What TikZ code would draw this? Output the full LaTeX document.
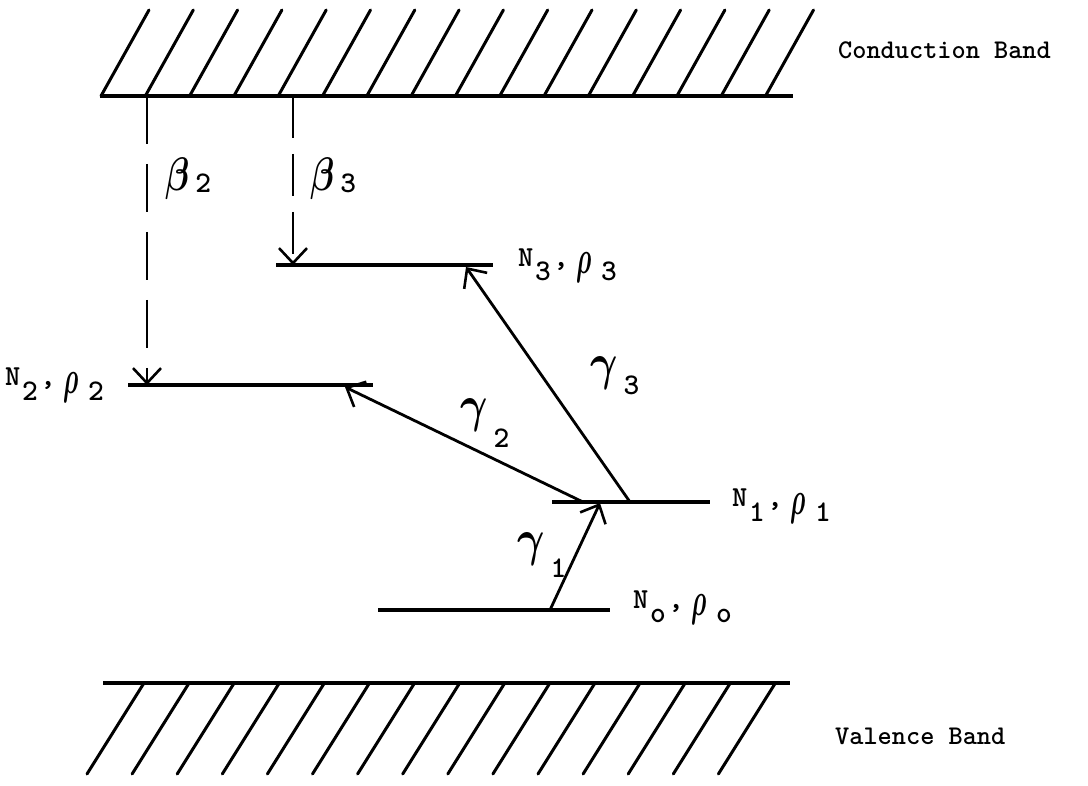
\documentclass[tikz,border=0pt]{standalone}
\usepackage{fontspec}
\usepackage{graphicx}
\usepackage{amsmath}
\usetikzlibrary{arrows.meta}
\newcommand{\tw}{\ttfamily\bfseries}
\newcommand{\NN}{\scalebox{2.9}{\tw N}}
\newcommand{\DD}[1]{\scalebox{3}{\tw #1}}
\newcommand{\rhog}{\raisebox{-7pt}{\scalebox{2.5}[4.7]{$\boldsymbol{\rho}$}}}
\newcommand{\lvlab}[2]{\makebox[17pt][l]{\NN}\makebox[18pt][l]{\raisebox{-14pt}{\DD{#1}}}\makebox[23pt][l]{\DD{,}}\makebox[25pt][l]{\rhog}\raisebox{-14pt}{\DD{#2}}}
\newcommand{\betag}{\scalebox{3.5}[4.7]{$\boldsymbol{\beta}$}}
\newcommand{\gammag}{\scalebox{4.2}[5.1]{$\boldsymbol{\gamma}$}}
\newcommand{\glab}[3]{#1\hspace{6pt}\raisebox{#3}{\scalebox{3}{\tw #2}}}
\begin{document}
\begin{tikzpicture}[x=1pt,y=-1pt,
  band/.style={line width=3.8pt},
  hatch/.style={line width=3pt, line cap=round},
  level/.style={line width=3.6pt},
  tip/.style={-{Straight Barb[length=15pt,width=28pt,line width=2.6pt]}},
  trans/.style={line width=2.8pt, tip},
  dtrans/.style={line width=2.6pt, tip},
  bandlab/.style={font=\fontsize{27}{32}\selectfont\tw, inner sep=0pt, anchor=base west},
  lvllab/.style={inner sep=0pt, anchor=base west},
  greek/.style={inner sep=0pt, anchor=base west}]
\useasboundingbox (0,0) rectangle (1088,786);

% Conduction band
\coordinate (cbl) at (100,96);
\coordinate (cbr) at (793,96);
\draw[band] (cbl) -- (cbr);
\foreach \i in {0,...,15} {
  \draw[hatch] ({101+44.3*\i},96) -- ({149+44.3*\i},10);
}
\node[bandlab] (cblab) at (838,59) {Conduction Band};

% Valence band
\coordinate (vbl) at (103,683);
\coordinate (vbr) at (790,683);
\draw[band] (vbl) -- (vbr);
\foreach \i in {0,...,14} {
  \draw[hatch] ({144+45.1*\i},683) -- ({87+45.1*\i},774);
}
\node[bandlab] (vblab) at (835,744) {Valence Band};

% Levels
\coordinate (n3l) at (276,265); \coordinate (n3r) at (493,265);
\coordinate (n2l) at (128,385); \coordinate (n2r) at (373,385);
\coordinate (n1l) at (552,502); \coordinate (n1r) at (710,502);
\coordinate (n0l) at (378,610); \coordinate (n0r) at (610,610);
\draw[level] (n3l) -- (n3r);
\draw[level] (n2l) -- (n2r);
\draw[level] (n1l) -- (n1r);
\draw[level] (n0l) -- (n0r);

\node[lvllab] (n3lab) at (518,267) {\lvlab{3}{3}};
\node[lvllab] (n2lab) at (5,386) {\lvlab{2}{2}};
\node[lvllab] (n1lab) at (732,507) {\lvlab{1}{1}};
\node[lvllab] (n0lab) at (633,608) {\lvlab{o}{o}};

% beta transitions
\coordinate (b2s) at (147,96);  \coordinate (b2e) at (147,385);
\coordinate (b3s) at (293,96);  \coordinate (b3e) at (293,265);
\draw[dtrans, dash pattern=on 48pt off 20pt] (b2s) -- (b2e);
\draw[dtrans, dash pattern=on 42pt off 16pt] (b3s) -- (b3e);
\node[greek] (b2lab) at (165,191) {\glab{\betag}{2}{-2pt}};
\node[greek] (b3lab) at (310,191) {\glab{\betag}{3}{-2pt}};

% gamma transitions
\coordinate (g1s) at (550,610); \coordinate (g1e) at (600,503);
\coordinate (g2s) at (583,502); \coordinate (g2e) at (345,387);
\coordinate (g3s) at (630,502); \coordinate (g3e) at (466,267);
\draw[trans] (g1s) -- (g1e);
\draw[trans] (g2s) -- (g2e);
\draw[trans] (g3s) -- (g3e);
\node[greek] (g1lab) at (517,555) {\glab{\gammag}{1}{-22pt}};
\node[greek] (g2lab) at (460,422) {\glab{\gammag}{2}{-26pt}};
\node[greek] (g3lab) at (590,380) {\glab{\gammag}{3}{-15pt}};
\end{tikzpicture}
\end{document}
